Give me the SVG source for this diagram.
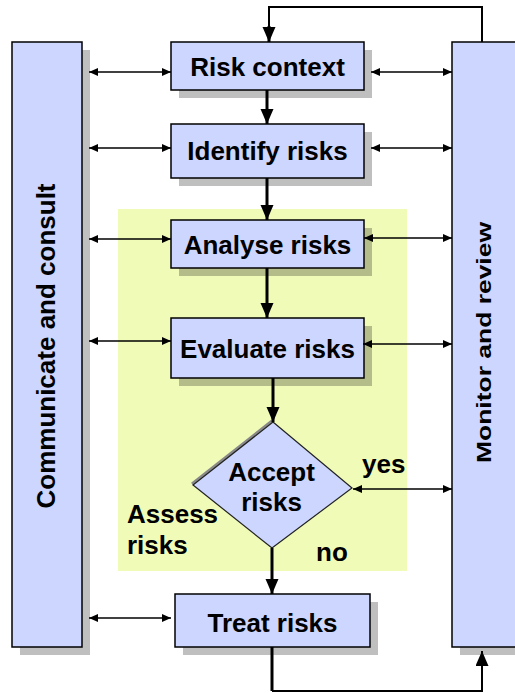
<svg xmlns="http://www.w3.org/2000/svg" width="515" height="693" viewBox="0 0 515 693">
<defs>
<style>
.box{fill:#CCD6FE;stroke:#000;stroke-width:1.5}
.sh{fill:#000;fill-opacity:0.25}
.t{font-family:"Liberation Sans",Arial,sans-serif;font-weight:bold;font-size:26px;fill:#000}
.flow{stroke:#000;stroke-width:3;fill:none}
.loop{stroke:#000;stroke-width:2;fill:none}
.thin{stroke:#000;stroke-width:1.5;fill:none}
</style>
<marker id="big" markerWidth="15" markerHeight="14" refX="15" refY="6.5" orient="auto" markerUnits="userSpaceOnUse"><path d="M0,0 L15,6.5 L0,13 z" fill="#000"/></marker>
<marker id="sm" markerWidth="9" markerHeight="8" refX="9" refY="4" orient="auto-start-reverse" markerUnits="userSpaceOnUse"><path d="M0,0 L9,4 L0,8 z" fill="#000"/></marker>
</defs>
<rect width="515" height="693" fill="#fff"/>
<rect id="assess-area" x="118" y="209" width="289" height="362" fill="#F0FBB8"/>

<g id="communicate">
<rect class="sh" x="20" y="50" width="70" height="605"/>
<rect class="box" x="12" y="42" width="70" height="605"/>
<text class="t" transform="translate(55,346) rotate(-90)" text-anchor="middle">Communicate and consult</text>
</g>
<g id="monitor">
<rect class="sh" x="460" y="50" width="70" height="605"/>
<rect class="box" x="452" y="42" width="80" height="605"/>
<text class="t" style="font-size:21px" transform="translate(491,342.5) rotate(-90)" text-anchor="middle" textLength="241" lengthAdjust="spacingAndGlyphs">Monitor and review</text>
</g>
<g id="risk-context">
<rect class="sh" x="179" y="50" width="193" height="48"/>
<rect class="box" x="171" y="42" width="193" height="48"/>
<text class="t" x="267.5" y="76" text-anchor="middle">Risk context</text>
</g>
<g id="identify">
<rect class="sh" x="179" y="132" width="193" height="54"/>
<rect class="box" x="171" y="124" width="193" height="54"/>
<text class="t" x="267.5" y="160" text-anchor="middle">Identify risks</text>
</g>
<g id="analyse">
<rect class="sh" x="179" y="228" width="193" height="48"/>
<rect class="box" x="171" y="220" width="193" height="48"/>
<text class="t" x="267.5" y="254" text-anchor="middle">Analyse risks</text>
</g>
<g id="evaluate">
<rect class="sh" x="179" y="326" width="193" height="60"/>
<rect class="box" x="171" y="318" width="193" height="60"/>
<text class="t" x="267.5" y="358" text-anchor="middle">Evaluate risks</text>
</g>
<g id="accept">
<path d="M192,484 L272,421" stroke="#888" stroke-width="3" fill="none"/>
<path d="M273,422 L352,488 L272,548 L193,485 Z" fill="#CCD6FE" stroke="#222" stroke-width="1.2"/>
<text class="t" x="271.5" y="481" text-anchor="middle">Accept</text>
<text class="t" x="271.5" y="511" text-anchor="middle">risks</text>
</g>
<g id="treat">
<rect class="sh" x="183" y="602" width="195" height="53"/>
<rect class="box" x="175" y="594" width="195" height="53"/>
<text class="t" x="272.5" y="632" text-anchor="middle">Treat risks</text>
</g>
<g id="labels">
<text class="t" x="127" y="523">Assess</text>
<text class="t" x="127" y="554">risks</text>
<text class="t" x="362" y="473">yes</text>
<text class="t" x="316" y="561">no</text>
</g>
<g id="connectors">
<path class="loop" d="M482,42 V7 H269 V28"/>
<path class="flow" d="M269,26 V42" marker-end="url(#big)"/>
<path class="flow" d="M267,90 V124" marker-end="url(#big)"/>
<path class="flow" d="M267,178 V220" marker-end="url(#big)"/>
<path class="flow" d="M267,268 V318" marker-end="url(#big)"/>
<path class="flow" d="M273,378 V422" marker-end="url(#big)"/>
<path class="flow" d="M272,548 V594" marker-end="url(#big)"/>
<path class="flow" d="M272,647 V691"/>
<path class="loop" d="M272,691 H482 V663"/>
<path class="loop" d="M482,665 V651" marker-end="url(#big)"/>
<path class="thin" d="M89,72 H171" marker-start="url(#sm)" marker-end="url(#sm)"/>
<path class="thin" d="M89,148 H171" marker-start="url(#sm)" marker-end="url(#sm)"/>
<path class="thin" d="M89,239 H171" marker-start="url(#sm)" marker-end="url(#sm)"/>
<path class="thin" d="M89,341 H171" marker-start="url(#sm)" marker-end="url(#sm)"/>
<path class="thin" d="M89,618 H171" marker-start="url(#sm)" marker-end="url(#sm)"/>
<path class="thin" d="M371,72 H452" marker-start="url(#sm)" marker-end="url(#sm)"/>
<path class="thin" d="M371,148 H452" marker-start="url(#sm)" marker-end="url(#sm)"/>
<path class="thin" d="M364,238 H452" marker-start="url(#sm)" marker-end="url(#sm)"/>
<path class="thin" d="M363,344 H452" marker-start="url(#sm)" marker-end="url(#sm)"/>
<path class="thin" d="M353,489 H452" marker-start="url(#sm)" marker-end="url(#sm)"/>
</g>
</svg>
